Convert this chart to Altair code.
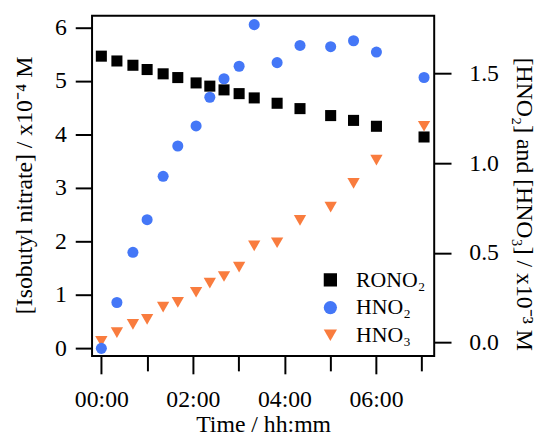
import altair as alt
import pandas as pd

# time in hours since start
time_h = [0.0, 0.34, 0.69, 1.0, 1.35, 1.67, 2.07, 2.37, 2.68, 3.01, 3.34, 3.84, 4.34, 5.01, 5.51, 6.01, 7.05]
# isobutyl nitrate, x1e-4 M (left axis)
rono2 = [5.46, 5.37, 5.29, 5.21, 5.13, 5.06, 4.96, 4.90, 4.83, 4.76, 4.68, 4.58, 4.48, 4.35, 4.26, 4.15, 3.95]
# HNO2, x1e-3 M (right axis)
hno2 = [-0.033, 0.223, 0.503, 0.685, 0.927, 1.096, 1.208, 1.368, 1.471, 1.541, 1.773, 1.561, 1.657, 1.650, 1.683, 1.620, 1.478]
# HNO3, x1e-3 M (right axis)
hno3 = [0.006, 0.055, 0.101, 0.129, 0.197, 0.224, 0.280, 0.331, 0.368, 0.420, 0.539, 0.556, 0.681, 0.755, 0.887, 1.017, 1.206]

series_names = ["RONO₂", "HNO₂", "HNO₃"]
colors = ["#000000", "#4477F7", "#F97C3E"]
shapes = ["square", "circle", "triangle-down"]

rono2_df = pd.DataFrame({"t": time_h, "v": rono2, "s": series_names[0]})
hno2_df = pd.DataFrame({"t": time_h, "v": hno2, "s": series_names[1]})
hno3_df = pd.DataFrame({"t": time_h, "v": hno3, "s": series_names[2]})

FONT = "Liberation Serif"

x_enc = alt.X(
    "t:Q",
    scale=alt.Scale(domain=[-0.203, 7.272], nice=False, zero=False),
    axis=alt.Axis(
        values=[0, 1, 2, 3, 4, 5, 6, 7],
        labelExpr="datum.value % 2 === 0 ? '0' + datum.value + ':00' : ''",
        tickSize={"condition": {"test": "datum.value % 2 === 0", "value": 18}, "value": 15},
        tickWidth=2,
        labelPadding=14,
        title="Time / hh:mm",
        titleBaseline="alphabetic",
        titleY=76,
        domain=False,
        grid=False,
    ),
)

color_enc = alt.Color(
    "s:N",
    scale=alt.Scale(domain=series_names, range=colors),
    legend=alt.Legend(
        title=None,
        orient="none",
        legendX=230,
        legendY=256,
        labelFontSize=22,
        labelFont=FONT,
        symbolSize=180,
        rowPadding=6,
        labelOffset=15,
        padding=0,
    ),
)
shape_enc = alt.Shape("s:N", scale=alt.Scale(domain=series_names, range=shapes))

left_axis = alt.Axis(
    values=[0, 1, 2, 3, 4, 5, 6],
    format="d",
    tickSize=17,
    tickWidth=2,
    labelPadding=9,
    title="[Isobutyl nitrate] / x10⁻⁴ M",
    titleAngle=270,
    titleBaseline="middle",
    titleX=-68,
    titleY=171,
    domain=False,
    grid=False,
)

right_axis = alt.Axis(
    orient="right",
    values=[0, 0.5, 1.0, 1.5],
    format=".1f",
    tickSize=17,
    tickWidth=2,
    labelPadding=18,
    title="[HNO₂] and [HNO₃] / x10⁻³ M",
    titleAngle=90,
    titleBaseline="middle",
    titleX=90,
    titleY=190,
    domain=False,
    grid=False,
)

right_scale = alt.Scale(domain=[-0.0757, 1.822], nice=False, zero=False)

left = alt.Chart(rono2_df).mark_point(filled=True, size=125, opacity=1).encode(
    x=x_enc,
    y=alt.Y("v:Q", scale=alt.Scale(domain=[-0.142, 6.213], nice=False, zero=False), axis=left_axis),
    color=color_enc,
    shape=shape_enc,
)

hno3_layer = alt.Chart(hno3_df).mark_point(filled=True, size=155, opacity=1).encode(
    x=x_enc,
    y=alt.Y("v:Q", scale=right_scale, axis=right_axis),
    color=color_enc,
    shape=shape_enc,
)

hno2_layer = alt.Chart(hno2_df).mark_point(filled=True, size=125, opacity=1).encode(
    x=x_enc,
    y=alt.Y("v:Q", scale=right_scale, axis=right_axis),
    color=color_enc,
    shape=shape_enc,
)

right = alt.layer(hno3_layer, hno2_layer)

chart = (
    alt.layer(left, right)
    .resolve_scale(y="independent")
    .properties(
        width=346,
        height=344,
        autosize=alt.AutoSizeParams(type="none"),
        padding={"left": 85, "top": 5.5, "right": 108, "bottom": 84},
    )
    .configure(font=FONT, background="white")
    .configure_view(stroke="black", strokeWidth=2)
    .configure_axis(
        labelFont=FONT,
        titleFont=FONT,
        labelFontSize=24,
        titleFontSize=24,
        titleFontWeight="normal",
        labelColor="black",
        titleColor="black",
        tickColor="black",
        labelFlush=False,
        labelOverlap=False,
    )
)

chart.save("out.html", embed_options={"renderer": "svg", "actions": False})
